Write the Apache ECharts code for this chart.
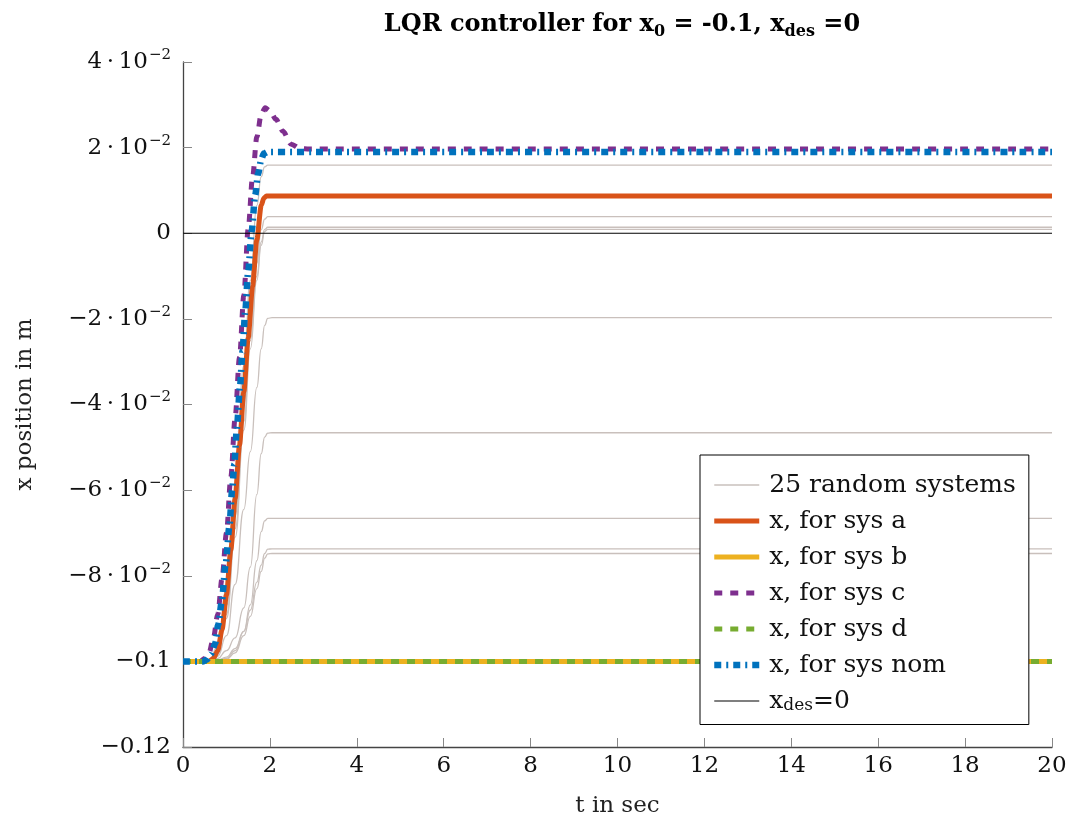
<!DOCTYPE html>
<html>
<head>
<meta charset="utf-8">
<script src="https://cdn.jsdelivr.net/npm/echarts@6/dist/echarts.min.js"></script>
<style>
  html, body { margin: 0; padding: 0; background: #ffffff; }
  #chart { width: 1073px; height: 827px; }
</style>
</head>
<body>
<div id="chart"></div>
<script>
// ---- axis ticks ----
const xTickValues = [0, 2, 4, 6, 8, 10, 12, 14, 16, 18, 20];
const yTickValues = [-0.12, -0.1, -0.08, -0.06, -0.04, -0.02, 0, 0.02, 0.04];
const yTickLabels = ['\u22120.12', '\u22120.1', '\u22128\u2009\u00b7\u200910{sup|\u22122}', '\u22126\u2009\u00b7\u200910{sup|\u22122}',
  '\u22124\u2009\u00b7\u200910{sup|\u22122}', '\u22122\u2009\u00b7\u200910{sup|\u22122}', '0',
  '2\u2009\u00b7\u200910{sup|\u22122}', '4\u2009\u00b7\u200910{sup|\u22122}'];

// ---- sys a ----
const tA = [0, 0.6, 0.7, 0.8, 0.9, 1.0, 1.1, 1.2, 1.3, 1.4, 1.5, 1.6, 1.7, 1.8, 1.86, 1.92, 2.0, 20];
const xA = [-0.1, -0.1, -0.0993, -0.0975, -0.0925, -0.0845, -0.0740, -0.0620, -0.0495, -0.0370, -0.0245, -0.0125, -0.0015, 0.0065, 0.0082, 0.0087, 0.0087, 0.0087];

// ---- sys b / sys d (stay at start position) ----
const tB = [0, 20];
const xB = [-0.1, -0.1];
const tD = [0, 20];
const xD = [-0.1, -0.1];

// ---- sys c ----
const tC = [0, 0.4, 0.5, 0.6, 0.7, 0.8, 0.9, 1.0, 1.1, 1.2, 1.3, 1.4, 1.5, 1.6, 1.7, 1.8, 1.89, 2.0, 2.14, 2.3, 2.49, 2.7, 2.9, 20];
const xC = [-0.1, -0.1, -0.0993, -0.098, -0.0945, -0.0890, -0.0805, -0.0700, -0.0570, -0.0430, -0.0290, -0.0145, 0.0010, 0.0130, 0.0225, 0.0278, 0.0293, 0.0286, 0.0266, 0.0238, 0.0208, 0.0198, 0.0197, 0.0197];

// ---- sys nom ----
const tNom = [0, 0.45, 0.55, 0.65, 0.74, 0.81, 0.89, 0.98, 1.07, 1.13, 1.18, 1.24, 1.31, 1.37, 1.43, 1.50, 1.58, 1.66, 1.73, 1.80, 1.86, 1.95, 20];
const xNom = [-0.1, -0.1, -0.0996, -0.0982, -0.0958, -0.0915, -0.0862, -0.0775, -0.0682, -0.0600, -0.0540, -0.0455, -0.0360, -0.0275, -0.0185, -0.0090, 0.0005, 0.0088, 0.0140, 0.0172, 0.0186, 0.0190, 0.0190];

// ---- desired position ----
const tDes = [0, 20];
const xDes = [0, 0];

// ---- 25 random systems (shared time grid) ----
const tRand = [0, 0.6, 0.8, 1.0, 1.2, 1.4, 1.55, 1.7, 1.8, 1.88, 1.95, 2.05, 20];
const xRand = [
  [-0.1, -0.0998, -0.0965, -0.083, -0.060, -0.031, -0.011, 0.0065, 0.0132, 0.0155, 0.0159, 0.0159, 0.0159],
  [-0.1, -0.1, -0.0975, -0.087, -0.066, -0.040, -0.021, -0.007, 0.0008, 0.0033, 0.0039, 0.0039, 0.0039],
  [-0.1, -0.1, -0.098, -0.089, -0.069, -0.044, -0.025, -0.010, -0.002, 0.0009, 0.0014, 0.0014, 0.0014],
  [-0.1, -0.1, -0.0983, -0.090, -0.071, -0.046, -0.027, -0.011, -0.0028, 0.0004, 0.0009, 0.0009, 0.0009],
  [-0.1, -0.1, -0.0988, -0.094, -0.082, -0.0645, -0.051, -0.036, -0.027, -0.0215, -0.0199, -0.0197, -0.0197],
  [-0.1, -0.1, -0.0993, -0.0975, -0.0945, -0.0875, -0.078, -0.061, -0.0515, -0.0476, -0.0467, -0.0466, -0.0466],
  [-0.1, -0.1, -0.0997, -0.099, -0.097, -0.093, -0.0868, -0.0765, -0.0697, -0.0672, -0.0666, -0.0666, -0.0666],
  [-0.1, -0.1, -0.0998, -0.0993, -0.0975, -0.093, -0.088, -0.0815, -0.0775, -0.0748, -0.0738, -0.0737, -0.0737],
  [-0.1, -0.1, -0.0998, -0.0995, -0.098, -0.094, -0.0895, -0.083, -0.079, -0.0759, -0.0749, -0.0748, -0.0748],
  [-0.1, -0.1, -0.1, -0.1, -0.1, -0.1, -0.1, -0.1, -0.1, -0.1, -0.1, -0.1, -0.1],
  [-0.1, -0.1, -0.1, -0.1, -0.1, -0.1, -0.1, -0.1, -0.1, -0.1, -0.1, -0.1, -0.1],
  [-0.1, -0.1, -0.1, -0.1, -0.1, -0.1, -0.1, -0.1, -0.1, -0.1, -0.1, -0.1, -0.1],
  [-0.1, -0.1, -0.1, -0.1, -0.1, -0.1, -0.1, -0.1, -0.1, -0.1, -0.1, -0.1, -0.1],
  [-0.1, -0.1, -0.1, -0.1, -0.1, -0.1, -0.1, -0.1, -0.1, -0.1, -0.1, -0.1, -0.1],
  [-0.1, -0.1, -0.1, -0.1, -0.1, -0.1, -0.1, -0.1, -0.1, -0.1, -0.1, -0.1, -0.1],
  [-0.1, -0.1, -0.1, -0.1, -0.1, -0.1, -0.1, -0.1, -0.1, -0.1, -0.1, -0.1, -0.1],
  [-0.1, -0.1, -0.1, -0.1, -0.1, -0.1, -0.1, -0.1, -0.1, -0.1, -0.1, -0.1, -0.1],
  [-0.1, -0.1, -0.1, -0.1, -0.1, -0.1, -0.1, -0.1, -0.1, -0.1, -0.1, -0.1, -0.1],
  [-0.1, -0.1, -0.1, -0.1, -0.1, -0.1, -0.1, -0.1, -0.1, -0.1, -0.1, -0.1, -0.1],
  [-0.1, -0.1, -0.1, -0.1, -0.1, -0.1, -0.1, -0.1, -0.1, -0.1, -0.1, -0.1, -0.1],
  [-0.1, -0.1, -0.1, -0.1, -0.1, -0.1, -0.1, -0.1, -0.1, -0.1, -0.1, -0.1, -0.1],
  [-0.1, -0.1, -0.1, -0.1, -0.1, -0.1, -0.1, -0.1, -0.1, -0.1, -0.1, -0.1, -0.1],
  [-0.1, -0.1, -0.1, -0.1, -0.1, -0.1, -0.1, -0.1, -0.1, -0.1, -0.1, -0.1, -0.1],
  [-0.1, -0.1, -0.1, -0.1, -0.1, -0.1, -0.1, -0.1, -0.1, -0.1, -0.1, -0.1, -0.1],
  [-0.1, -0.1, -0.1, -0.1, -0.1, -0.1, -0.1, -0.1, -0.1, -0.1, -0.1, -0.1, -0.1]
];

const NAME_RAND = '25 random systems';
const NAME_A = 'x, for sys a';
const NAME_B = 'x, for sys b';
const NAME_C = 'x, for sys c';
const NAME_D = 'x, for sys d';
const NAME_NOM = 'x, for sys nom';
const NAME_DES = 'x_des=0';

const FONT = 'DejaVu Serif';
const zip = (t, x) => t.map((v, i) => [v, x[i]]);

// line styles shared by the plotted curves and their legend entries
const styles = {};
styles[NAME_RAND] = { color: '#c9c0bc', width: 1.3, type: 'solid' };
styles[NAME_A] = { color: '#D95319', width: 5, type: 'solid' };
styles[NAME_B] = { color: '#EDB120', width: 5, type: 'solid' };
styles[NAME_C] = { color: '#7E2F8E', width: 5, type: [8, 8] };
styles[NAME_D] = { color: '#77AC30', width: 5, type: [8, 8] };
styles[NAME_NOM] = { color: '#0072BD', width: 6.5, type: [7, 5, 2, 5] };
styles[NAME_DES] = { color: '#000000', width: 1.1, type: 'solid' };

function lineSeries(name, t, x, smooth) {
  const s = styles[name];
  return {
    name: name,
    type: 'line',
    data: zip(t, x),
    symbol: 'none',
    smooth: smooth,
    smoothMonotone: 'x',
    silent: true,
    color: s.color,
    itemStyle: { color: s.color },
    lineStyle: { color: s.color, width: s.width, type: s.type, cap: 'butt', join: 'round' },
    emphasis: { disabled: true }
  };
}

const series = [];
xRand.forEach(row => series.push(lineSeries(NAME_RAND, tRand, row, 0.5)));
series.push(lineSeries(NAME_A, tA, xA, 0.25));
series.push(lineSeries(NAME_B, tB, xB, false));
series.push(lineSeries(NAME_C, tC, xC, 0.3));
series.push(lineSeries(NAME_D, tD, xD, false));
series.push(lineSeries(NAME_NOM, tNom, xNom, 0.25));
series.push(lineSeries(NAME_DES, tDes, xDes, false));

const legendNames = [NAME_RAND, NAME_A, NAME_B, NAME_C, NAME_D, NAME_NOM, NAME_DES];

const chart = echarts.init(document.getElementById('chart'), null, { renderer: 'canvas' });
chart.setOption({
  animation: false,
  backgroundColor: '#ffffff',
  title: {
    text: 'LQR controller for x{sub|0} = -0.1, x{sub|des} =0',
    left: 617,
    top: 5,
    textAlign: 'center',
    textStyle: {
      fontFamily: FONT, fontSize: 24, fontWeight: 'bold', color: '#000',
      rich: {
        sub: { fontFamily: FONT, fontSize: 16, fontWeight: 'bold', color: '#000', padding: [14, 0, 0, 0] }
      }
    }
  },
  grid: { left: 183, right: 21, top: 62, bottom: 80, containLabel: false },
  xAxis: {
    type: 'value', min: 0, max: 20, interval: 2,
    name: 't in sec', nameLocation: 'middle', nameGap: 48,
    nameTextStyle: { fontFamily: FONT, fontSize: 23, color: '#222' },
    axisLine: { show: true, onZero: false, lineStyle: { color: '#444', width: 1.3 } },
    axisTick: { show: true, inside: true, length: 9, lineStyle: { color: '#888', width: 1 } },
    axisLabel: { fontFamily: FONT, fontSize: 23, color: '#111', margin: 8,
      formatter: v => xTickValues.includes(Math.round(v * 1000) / 1000) ? String(Math.round(v)) : '' },
    splitLine: { show: false }
  },
  yAxis: {
    type: 'value', min: -0.12, max: 0.04, interval: 0.02,
    name: 'x position in m', nameLocation: 'middle', nameGap: 146, nameRotate: 90,
    nameTextStyle: { fontFamily: FONT, fontSize: 23, color: '#222' },
    axisLine: { show: true, onZero: false, lineStyle: { color: '#444', width: 1.3 } },
    axisTick: { show: true, inside: true, length: 9, lineStyle: { color: '#888', width: 1 } },
    axisLabel: {
      fontFamily: FONT, fontSize: 23, color: '#111', margin: 12,
      formatter: v => {
        const i = yTickValues.findIndex(u => Math.abs(u - v) < 1e-9);
        return i >= 0 ? yTickLabels[i] : '';
      },
      rich: { sup: { fontFamily: FONT, fontSize: 15, color: '#111', padding: [0, 0, 14, 1] } }
    },
    splitLine: { show: false }
  },
  legend: {
    orient: 'vertical',
    left: 700,
    top: 455,
    padding: [17, 13, 10, 11],
    itemWidth: 45,
    itemHeight: 14,
    itemGap: 10,
    backgroundColor: '#ffffff',
    borderColor: '#000000',
    borderWidth: 1,
    borderRadius: 0,
    selectedMode: false,
    itemStyle: { opacity: 0 },
    data: legendNames.map(n => ({
      name: n,
      itemStyle: { opacity: 0 },
      lineStyle: { color: styles[n].color, width: styles[n].width, type: styles[n].type, cap: 'butt' }
    })),
    formatter: name => name === NAME_DES ? 'x{sub|des}=0' : name,
    textStyle: {
      fontFamily: FONT, fontSize: 25, color: '#111', lineHeight: 26, padding: [0, 0, 0, 5],
      rich: { sub: { fontFamily: FONT, fontSize: 17, color: '#111', padding: [10, 0, 0, 0] } }
    }
  },
  series: series
});
</script>
</body>
</html>
